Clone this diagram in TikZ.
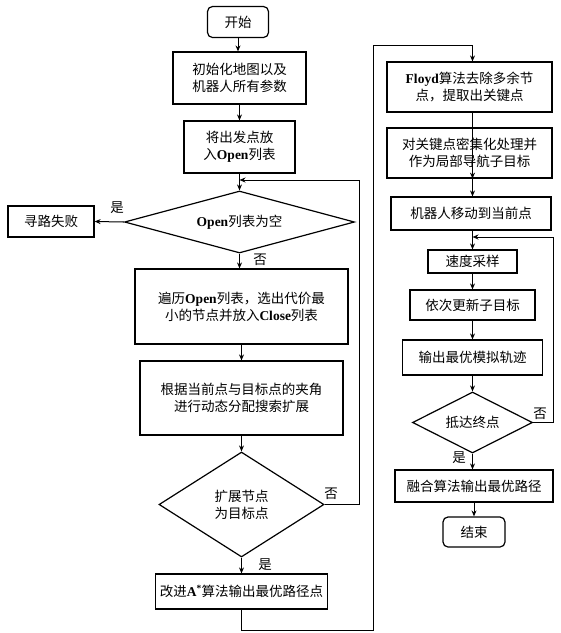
\documentclass[tikz,border=0pt]{standalone}
\usepackage{fontspec}
\usetikzlibrary{shapes.geometric,arrows.meta}
\newfontfamily\cjk{Noto Sans CJK SC}
\newfontfamily\latfont{Liberation Serif}
\newcommand\lat[1]{{\latfont\bfseries #1}}
\begin{document}
\begin{tikzpicture}[x=1pt,y=-1pt,
  every node/.style={font=\cjk\fontsize{13.5}{17}\selectfont},
  box/.style={draw,line width=1.2pt,align=center,inner sep=0pt},
  term/.style={box,rounded corners=5pt},
  dia/.style={draw,line width=1.2pt,diamond,align=center,inner sep=0pt},
  arr/.style={line width=1pt,-{Stealth[length=6pt,width=5pt]}},
  ln/.style={line width=1pt},
  lbl/.style={inner sep=1pt}]
\useasboundingbox (0,0) rectangle (561,633);
% left column
\node[term,minimum width=61pt,minimum height=31pt] (start) at (238,22) {开始};
\node[box,minimum width=133pt,minimum height=52pt] (init) at (239.5,78) {初始化地图以及\\机器人所有参数};
\node[box,minimum width=111pt,minimum height=52pt] (put) at (239.5,147) {将出发点放\\入\lat{Open}列表};
\node[dia,minimum width=230pt,minimum height=62pt,aspect=3.7] (d1) at (239.5,222) {\lat{Open}列表为空};
\node[box,minimum width=86pt,minimum height=31pt] (fail) at (51,221.5) {寻路失败};
\node[box,minimum width=213pt,minimum height=75pt] (trav) at (241.5,306.5) {遍历\lat{Open}列表，选出代价最\\小的节点并放入\lat{Close}列表};
\node[box,minimum width=203pt,minimum height=74pt] (expand) at (241.5,398) {根据当前点与目标点的夹角\\进行动态分配搜索扩展};
\node[dia,minimum width=165pt,minimum height=105pt,aspect=1.57] (d2) at (241.5,504.5) {扩展节点\\为目标点};
\node[box,minimum width=172pt,minimum height=35pt] (astar) at (241.5,591.5) {改进\lat{A}\textsuperscript{\lat{*}}算法输出最优路径点};
% right column
\node[box,minimum width=165pt,minimum height=50pt] (floyd) at (469.5,87) {\lat{Floyd}算法去除多余节\\点，提取出关键点};
\node[box,minimum width=165pt,minimum height=50pt] (dense) at (469.5,153) {对关键点密集化处理并\\作为局部导航子目标};
\node[box,minimum width=160pt,minimum height=33pt] (move) at (471,213.5) {机器人移动到当前点};
\node[box,minimum width=89pt,minimum height=23pt] (samp) at (472.5,261.5) {速度采样};
\node[box,minimum width=125pt,minimum height=30pt] (upd) at (472.5,305) {依次更新子目标};
\node[box,minimum width=140pt,minimum height=35pt] (outp) at (472.5,357.5) {输出最优模拟轨迹};
\node[dia,minimum width=120pt,minimum height=61pt,aspect=1.97] (d3) at (472.5,422.5) {抵达终点};
\node[box,minimum width=158pt,minimum height=32pt] (fuse) at (474,486) {融合算法输出最优路径};
\node[term,minimum width=62pt,minimum height=30pt] (end) at (474,532) {结束};
% helper coordinates
\coordinate (m1) at (239.5,180);
\coordinate (m2) at (472.5,237);
\coordinate (c1) at (373,630);
\coordinate (c2) at (472.5,45);
% connectors
\draw[arr] (start.south) -- (start.south |- init.north);
\draw[arr] (init) -- (put);
\draw[arr] (put) -- (d1.north);
\draw[arr] (d2.east) -- ++(35,0) |- (m1);
\draw[arr] (d1.west) -- (fail.east);
\draw[arr] (d1.south) -- (d1.south |- trav.north);
\draw[arr] (trav.south) -- (trav.south |- expand.north);
\draw[arr] (expand.south) -- (d2.north);
\draw[arr] (d2.south) -- (d2.south |- astar.north);
\draw[arr] (astar.south) |- (c1) |- (c2) -- (floyd.north -| c2);
\draw[arr] (floyd.south -| c2) -- (dense.south -| c2 |- dense.north);
\draw[arr] (dense.south -| c2) -- (move.north -| c2);
\draw[arr] (move.south -| c2) -- (samp.north);
\draw[arr] (d3.east) -- ++(20,0) |- (m2);
\draw[arr] (samp) -- (upd);
\draw[arr] (upd) -- (outp);
\draw[arr] (outp) -- (d3);
\draw[arr] (d3.south) -- (d3.south |- fuse.north);
\draw[arr] (fuse.south -| end) -- (end.north);
% labels
\node[lbl] (l1) at (117,208) {是};
\node[lbl] (l2) at (260,260) {否};
\node[lbl] (l3) at (331,494) {否};
\node[lbl] (l4) at (265,565) {是};
\node[lbl] (l5) at (540,414) {否};
\node[lbl] (l6) at (459,458) {是};
\end{tikzpicture}
\end{document}
